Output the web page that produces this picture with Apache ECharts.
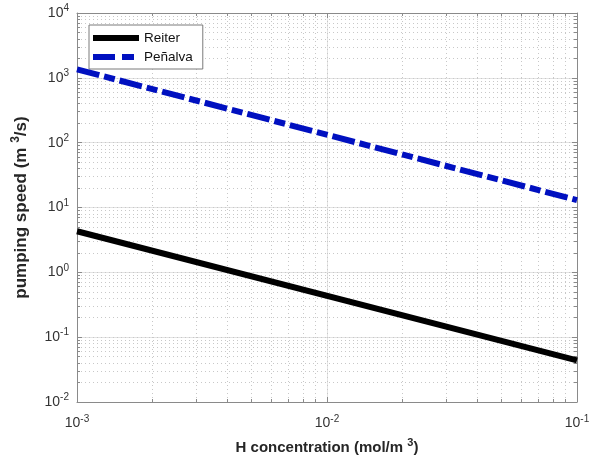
<!DOCTYPE html>
<html><head><meta charset="utf-8">
<script src="https://cdn.jsdelivr.net/npm/echarts@6/dist/echarts.min.js"></script>
<style>html,body{margin:0;padding:0;background:#fff}#c{width:597px;height:464px}</style>
</head><body><div id="c"></div>
<script>
// ---- data ----
const xValues = [0.001, 0.1];
const reiterY = [4.3, 0.044];
const penalvaY = [1350, 13];
const seriesNames = ['Reiter', 'Peñalva'];
const xLabel = 'H concentration (mol/m ';
const yLabel = 'pumping speed (m ';
const xMin = 0.001, xMax = 0.1, yMin = 0.01, yMax = 10000;

function gridVals(lo, hi) {
  const out = [];
  for (let e = lo; e < hi; e++) for (let m = 1; m < 10; m++) out.push(+(m * Math.pow(10, e)).toPrecision(6));
  out.push(Math.pow(10, hi));
  return out;
}
const xMinorVals = gridVals(-3, -1);
const yMinorVals = gridVals(-2, 4);

const axisColor = '#8a8a8a';
const labelRich = {
  b: { fontFamily: 'Liberation Sans', fontSize: 14, color: '#333' },
  s: { fontFamily: 'Liberation Sans', fontSize: 10, color: '#333', padding: [0, 0, 9, 0] }
};
function fmt(v) { return '{b|10}{s|' + Math.round(Math.log10(v)) + '}'; }

function mkAxis(kind, opts) {
  const isX = kind === 'x';
  const base = {
    type: 'log', logBase: 10,
    min: isX ? xMin : yMin, max: isX ? xMax : yMax,
    axisLine: { show: false, lineStyle: { color: axisColor, width: 1 } },
    axisTick: { show: false },
    axisLabel: { show: false },
    splitLine: { show: false },
    minorTick: { show: false },
    minorSplitLine: { show: false }
  };
  return Object.assign(base, opts);
}

const xAxes = [
  mkAxis('x', {
    position: 'bottom',
    axisLine: { show: true, onZero: false, lineStyle: { color: axisColor, width: 1 } },
    axisTick: { show: true, inside: true, length: 5, lineStyle: { color: axisColor } },
    axisLabel: { show: true, formatter: fmt, rich: labelRich, margin: 12 },
    splitLine: { show: true, lineStyle: { color: '#e3e3e3', width: 1, type: 'solid' } },
    name: '{a|' + xLabel + '}{s|3}{a|)}',
    nameLocation: 'middle', nameGap: 35,
    nameTextStyle: { rich: {
      a: { fontFamily: 'Liberation Sans', fontSize: 15, fontWeight: 'bold', color: '#262626' },
      s: { fontFamily: 'Liberation Sans', fontSize: 11, fontWeight: 'bold', color: '#262626', padding: [0, 0, 10, 0] }
    } }
  }),
  mkAxis('x', {
    position: 'bottom',
    axisTick: { show: true, inside: true, length: 3, customValues: xMinorVals, lineStyle: { color: axisColor } },
    splitLine: { show: true, lineStyle: { color: '#c8c8c8', width: 1, type: [1, 3] } }
  }),
  mkAxis('x', {
    position: 'top',
    axisLine: { show: true, onZero: false, lineStyle: { color: axisColor, width: 1 } },
    axisTick: { show: true, inside: true, length: 3, customValues: xMinorVals, lineStyle: { color: axisColor } }
  }),
  mkAxis('x', {
    position: 'top',
    axisTick: { show: true, inside: true, length: 5, lineStyle: { color: axisColor } }
  })
];

const yAxes = [
  mkAxis('y', {
    position: 'left',
    axisLine: { show: true, onZero: false, lineStyle: { color: axisColor, width: 1 } },
    axisTick: { show: true, inside: true, length: 5, lineStyle: { color: axisColor } },
    axisLabel: { show: true, formatter: fmt, rich: labelRich, margin: 8 },
    splitLine: { show: true, lineStyle: { color: '#e3e3e3', width: 1, type: 'solid' } },
    name: '{a|' + yLabel + '}{s|3}{a|/s)}',
    nameLocation: 'middle', nameGap: 44, nameRotate: 90,
    nameTextStyle: { rich: {
      a: { fontFamily: 'Liberation Sans', fontSize: 17, fontWeight: 'bold', color: '#262626' },
      s: { fontFamily: 'Liberation Sans', fontSize: 12, fontWeight: 'bold', color: '#262626', padding: [0, 0, 11, 0] }
    } }
  }),
  mkAxis('y', {
    position: 'left',
    axisTick: { show: true, inside: true, length: 3, customValues: yMinorVals, lineStyle: { color: axisColor } },
    splitLine: { show: true, lineStyle: { color: '#c8c8c8', width: 1, type: [1, 3] } }
  }),
  mkAxis('y', {
    position: 'right',
    axisLine: { show: true, onZero: false, lineStyle: { color: axisColor, width: 1 } },
    axisTick: { show: true, inside: true, length: 3, customValues: yMinorVals, lineStyle: { color: axisColor } }
  }),
  mkAxis('y', {
    position: 'right',
    axisTick: { show: true, inside: true, length: 5, lineStyle: { color: axisColor } }
  })
];

const reiterIcon = 'path://M0,0h46v6h-46z';
const penalvaIcon = 'path://M0,0h22v6h-22z M29,0h12v6h-12z M45.9,5.9h0.1v0.1h-0.1z';

const chart = echarts.init(document.getElementById('c'), null, { renderer: 'canvas' });
chart.setOption({
  animation: false,
  backgroundColor: '#fff',
  textStyle: { fontFamily: 'Liberation Sans' },
  grid: { left: 77, right: 20, top: 13, bottom: 62, containLabel: false },
  xAxis: xAxes,
  yAxis: yAxes,
  legend: {
    orient: 'vertical', left: 89, top: 25,
    padding: [5, 10, 4, 4], itemGap: 3,
    itemWidth: 46, itemHeight: 6,
    backgroundColor: '#fff', borderColor: '#7a7a7a', borderWidth: 1,
    textStyle: { fontFamily: 'Liberation Sans', fontSize: 13.5, color: '#111', lineHeight: 16 },
    data: [
      { name: seriesNames[0], icon: reiterIcon, itemStyle: { color: '#000' } },
      { name: seriesNames[1], icon: penalvaIcon, itemStyle: { color: '#0010c0' } }
    ]
  },
  series: [
    {
      name: seriesNames[0], type: 'line', xAxisIndex: 0, yAxisIndex: 0,
      data: xValues.map((x, i) => [x, reiterY[i]]),
      symbol: 'none', z: 5,
      lineStyle: { color: '#000', width: 6, cap: 'butt' },
      itemStyle: { color: '#000' }
    },
    {
      name: seriesNames[1], type: 'line', xAxisIndex: 0, yAxisIndex: 0,
      data: xValues.map((x, i) => [x, penalvaY[i]]),
      symbol: 'none', z: 5,
      lineStyle: { color: '#0010c0', width: 6, type: [23, 5, 11, 5], cap: 'butt' },
      itemStyle: { color: '#0010c0' }
    }
  ]
});
</script>
</body></html>
